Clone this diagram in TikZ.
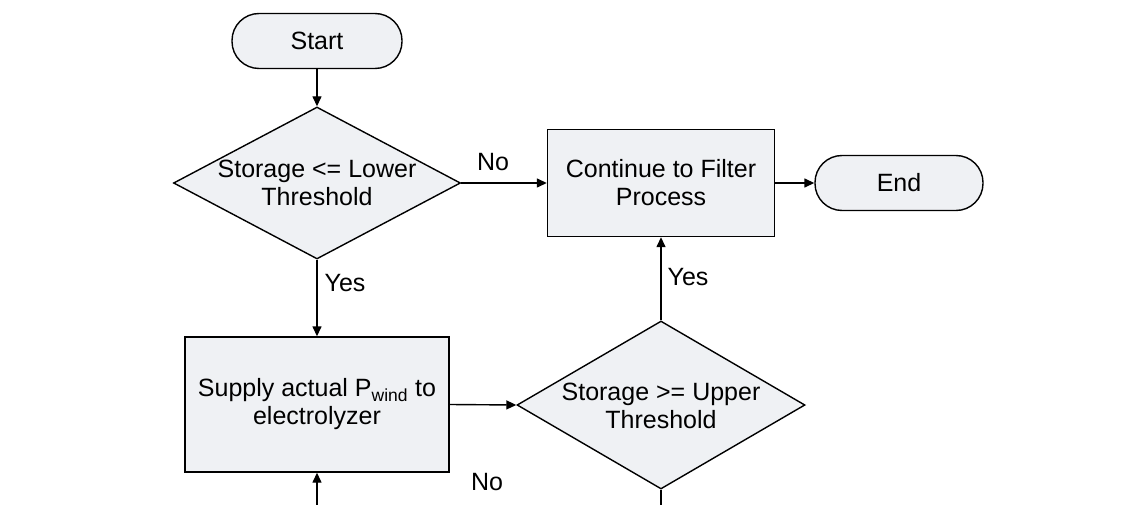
\documentclass[tikz,border=0pt]{standalone}
\usepackage{fontspec}
\setmainfont{Liberation Sans}
\usetikzlibrary{shapes.geometric,arrows.meta}
\definecolor{boxfill}{HTML}{EFF1F4}
\begin{document}
\begin{tikzpicture}[x=1pt,y=-1pt,
 every node/.style={font=\fontsize{25}{28}\selectfont},
 term/.style={draw, fill=boxfill, line width=1.4pt, rounded corners=27pt, minimum width=170pt, minimum height=55pt, inner sep=0},
 proc/.style={draw, fill=boxfill, line width=1.4pt, inner sep=0, align=center},
 dec/.style={draw, fill=boxfill, line width=1.4pt, diamond, inner sep=0},
 dtext/.style={align=center, inner sep=0},
 arr/.style={line width=1.4pt, -{Triangle[length=10pt,width=9pt]}},
 ln/.style={line width=1.4pt},
 lbl/.style={inner sep=0}
]
\useasboundingbox (0,0) rectangle (1146,505);
% nodes
\node[term] (start) at (317,41) {Start};
\node[dec, minimum width=287pt, minimum height=152pt] (d1) at (317,183) {};
\node[dtext] (d1t) at (317,183) {Storage <= Lower\\Threshold};
\node[proc, minimum width=227pt, minimum height=107pt] (b1) at (661,183) {Continue to Filter\\Process};
\node[term, minimum width=168pt] (end) at (899,183) {End};
\node[proc, minimum width=264pt, minimum height=135pt] (b2) at (317,404.5) {Supply actual P\textsubscript{wind} to\\electrolyzer};
\node[dec, minimum width=288pt, minimum height=168pt] (d2) at (661,405) {};
\node[dtext] (d2t) at (661,406) {Storage >= Upper\\Threshold};
\coordinate (outd2) at (661,505);
\coordinate (inb2) at (317,505);
% connectors
\draw[arr] (start.south) -- (d1.north);
\draw[arr] (d1.east) -- (b1.west);
\draw[arr] (b1.east) -- (end.west);
\draw[arr] (d1.south) -- (b2.north);
\draw[arr] (b2.east) -- (d2.west);
\draw[arr] (d2.north) -- (b1.south);
\draw[ln] (d2.south) -- (outd2);
\draw[arr] (inb2) -- (b2.south);
% labels
\node[lbl] (lno1) at (493,162) {No};
\node[lbl] (lyes1) at (345,283) {Yes};
\node[lbl] (lyes2) at (688,277) {Yes};
\node[lbl] (lno2) at (487,482) {No};
\end{tikzpicture}
\end{document}
